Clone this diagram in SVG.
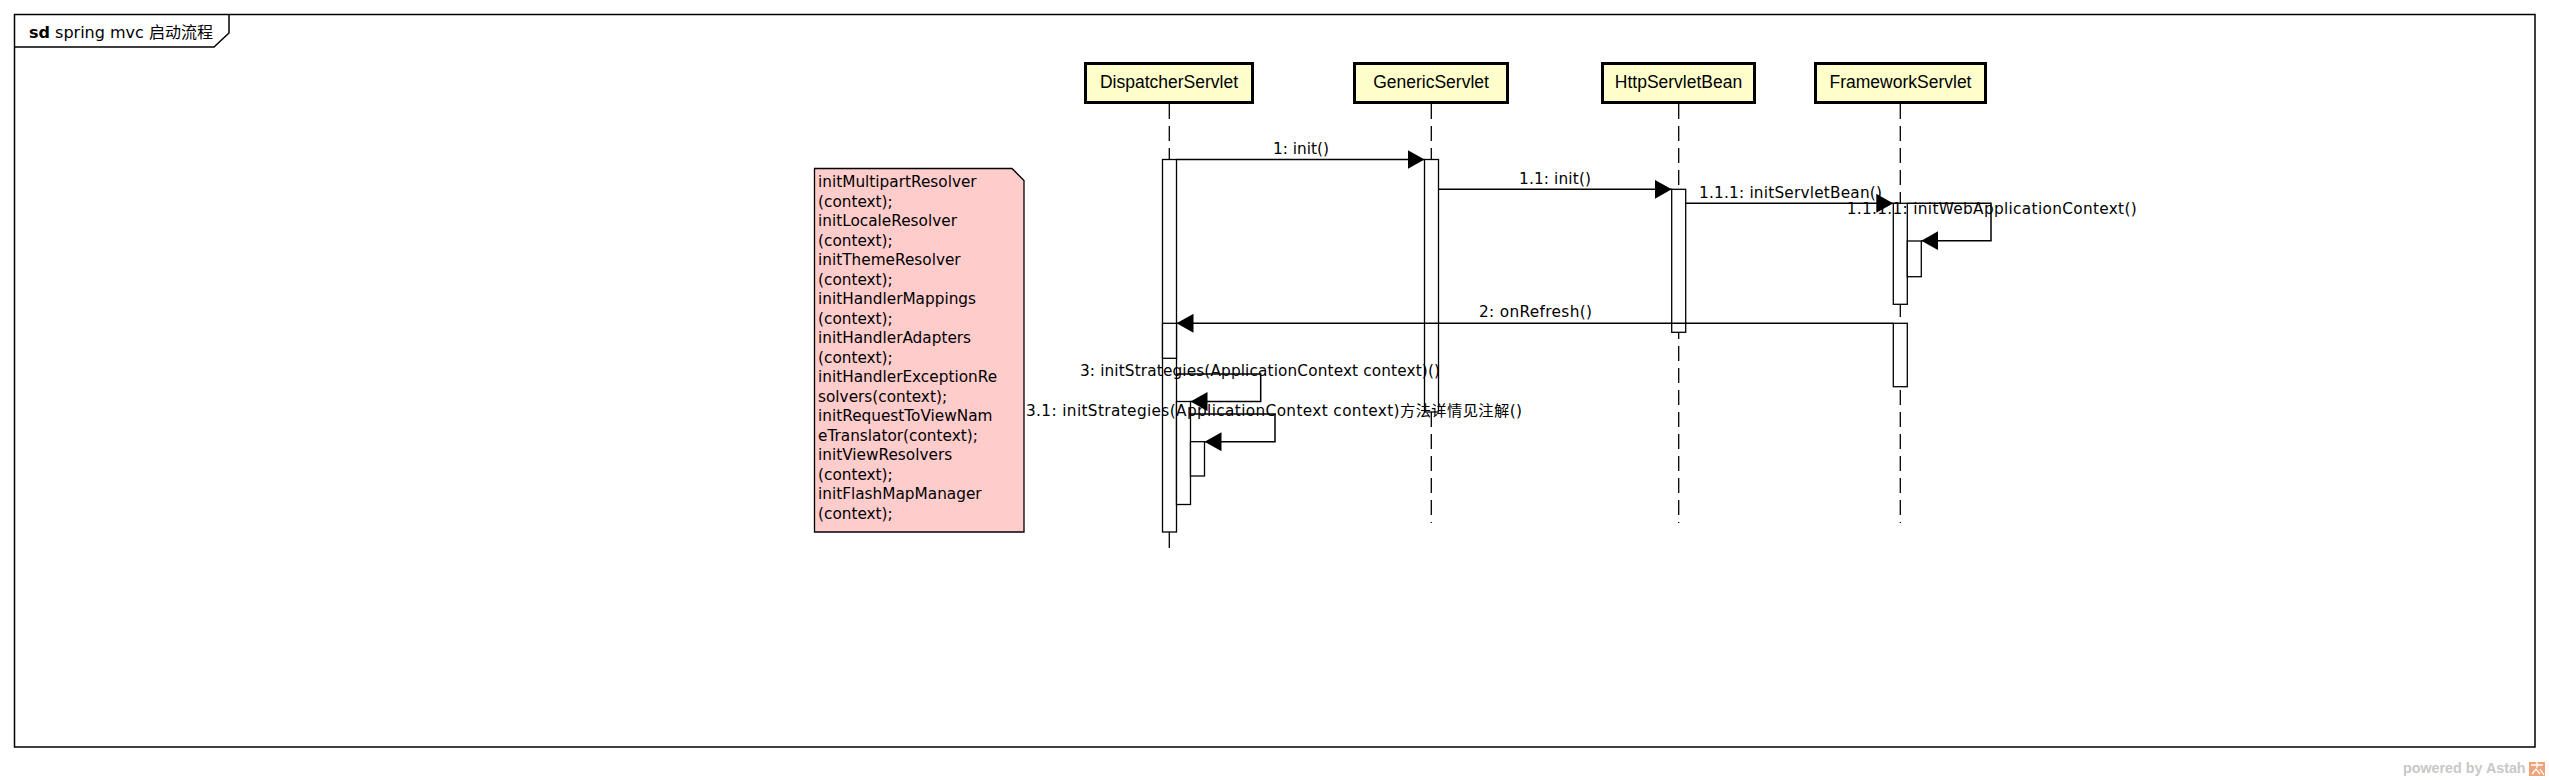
<svg xmlns="http://www.w3.org/2000/svg" width="2549" height="780" viewBox="0 0 2549 780">
<style>
.frame{fill:none;stroke:#000;stroke-width:1.5}
.box{fill:#ffffcc;stroke:#000;stroke-width:3}
.ll{stroke:#000;stroke-width:1.3;stroke-dasharray:15 7;fill:none}
.llsolid{stroke:#000;stroke-width:1.3;fill:none}
.act{fill:#fff;stroke:#000;stroke-width:1.3}
.msg{stroke:#000;stroke-width:1.5;fill:none;marker-end:url(#arr)}
.lbl{font-family:"DejaVu Sans","Noto Sans CJK SC",sans-serif;font-size:15.3px;fill:#000}
.name{font-family:"Liberation Sans",Arial,sans-serif;font-size:17.5px;fill:#000;text-anchor:middle}
.note{fill:#ffcccc;stroke:#000;stroke-width:1.3}
.ntxt{font-family:"DejaVu Sans",sans-serif;font-size:15.3px;fill:#000}
</style>
<defs>
<marker id="arr" markerWidth="17" markerHeight="19" refX="17" refY="9.5" orient="auto" markerUnits="userSpaceOnUse">
<path d="M0,0 L17,9.5 L0,19 Z" fill="#000"/>
</marker>
</defs>
<rect width="2549" height="780" fill="#fff"/>

<g id="frame">
<rect class="frame" x="14.5" y="14.5" width="2520.5" height="732.5"/>
<path class="frame" d="M14.5,47 H214 L229,33 V14.5"/>
<text x="29" y="38" font-family="'DejaVu Sans','Noto Sans CJK SC',sans-serif" font-size="16"><tspan font-weight="bold">sd</tspan> spring mvc 启动流程</text>
</g>

<g id="lifelines">
<line class="ll" x1="1169.3" y1="104" x2="1169.3" y2="160"/>
<line class="llsolid" x1="1169.3" y1="532" x2="1169.3" y2="548"/>
<line class="ll" x1="1431.3" y1="104" x2="1431.3" y2="523"/>
<line class="ll" x1="1678.7" y1="104" x2="1678.7" y2="523"/>
<line class="ll" x1="1900.3" y1="104" x2="1900.3" y2="523"/>
</g>

<g id="DispatcherServlet">
<rect class="box" x="1085.5" y="63.5" width="167" height="39"/>
<text class="name" x="1169" y="88">DispatcherServlet</text>
<rect class="act" x="1162.5" y="159.5" width="14" height="372.5"/>
<rect class="act" x="1162.5" y="323.3" width="14" height="35"/>
<rect class="act" x="1176.5" y="401.5" width="14" height="103"/>
<rect class="act" x="1190.5" y="441.7" width="14" height="34.3"/>
</g>

<g id="GenericServlet">
<rect class="box" x="1354.5" y="63.5" width="153" height="39"/>
<text class="name" x="1431" y="88">GenericServlet</text>
<rect class="act" x="1424.5" y="159.5" width="14" height="252.5"/>
</g>

<g id="HttpServletBean">
<rect class="box" x="1602.5" y="63.5" width="152" height="39"/>
<text class="name" x="1678.5" y="88">HttpServletBean</text>
<rect class="act" x="1671.7" y="189.3" width="14" height="143"/>
</g>

<g id="FrameworkServlet">
<rect class="box" x="1815.5" y="63.5" width="170" height="39"/>
<text class="name" x="1900.5" y="88">FrameworkServlet</text>
<rect class="act" x="1893.3" y="203.3" width="14" height="101"/>
<rect class="act" x="1907.3" y="241" width="14" height="35.7"/>
<rect class="act" x="1893.3" y="323.3" width="14" height="63.4"/>
</g>

<g id="note">
<path class="note" d="M814.5,168.5 H1012 L1024,180.5 V532 H814.5 Z"/>
<text class="ntxt" x="818">
<tspan x="818" y="187">initMultipartResolver</tspan>
<tspan x="818" y="206.5">(context);</tspan>
<tspan x="818" y="226">initLocaleResolver</tspan>
<tspan x="818" y="245.5">(context);</tspan>
<tspan x="818" y="265">initThemeResolver</tspan>
<tspan x="818" y="284.5">(context);</tspan>
<tspan x="818" y="304">initHandlerMappings</tspan>
<tspan x="818" y="323.5">(context);</tspan>
<tspan x="818" y="343">initHandlerAdapters</tspan>
<tspan x="818" y="362.5">(context);</tspan>
<tspan x="818" y="382">initHandlerExceptionRe</tspan>
<tspan x="818" y="401.5">solvers(context);</tspan>
<tspan x="818" y="421">initRequestToViewNam</tspan>
<tspan x="818" y="440.5">eTranslator(context);</tspan>
<tspan x="818" y="460">initViewResolvers</tspan>
<tspan x="818" y="479.5">(context);</tspan>
<tspan x="818" y="499">initFlashMapManager</tspan>
<tspan x="818" y="518.5">(context);</tspan>
</text>
</g>

<g id="connectors">
<line class="msg" x1="1176.5" y1="159.5" x2="1424.5" y2="159.5"/>
<line class="msg" x1="1438.5" y1="189.3" x2="1671.7" y2="189.3"/>
<line class="msg" x1="1685.7" y1="203.3" x2="1893.3" y2="203.3"/>
<path class="msg" d="M1907.3,203.3 H1991 V240.7 H1921.3"/>
<line class="msg" x1="1893.3" y1="323.3" x2="1176.5" y2="323.3"/>
<path class="msg" d="M1176.5,374 H1260.7 V401.5 H1190.5"/>
<path class="msg" d="M1190.5,414 H1275 V441.7 H1204.5"/>
</g>

<g id="labels">
<text class="lbl" x="1301" y="154" text-anchor="middle" textLength="56">1: init()</text>
<text class="lbl" x="1555" y="183.5" text-anchor="middle" textLength="72">1.1: init()</text>
<text class="lbl" x="1699" y="197.5" textLength="183">1.1.1: initServletBean()</text>
<text class="lbl" x="1846.7" y="213.5" textLength="290">1.1.1.1: initWebApplicationContext()</text>
<text class="lbl" x="1535.5" y="317.3" text-anchor="middle" textLength="113">2: onRefresh()</text>
<text class="lbl" x="1080" y="376" textLength="360">3: initStrategies(ApplicationContext context)()</text>
<text class="lbl" x="1026" y="415.5" textLength="496">3.1: initStrategies(ApplicationContext context)方法详情见注解()</text>
</g>

<g id="watermark">
<text x="2403" y="773" font-family="'Liberation Sans',Arial,sans-serif" font-size="14.3" font-weight="bold" fill="#c8c8c8">powered by Astah</text>
<rect x="2529" y="762" width="16" height="14" fill="#f0a27a"/>
<path d="M2531,765 H2543 M2537,762 V768 M2532,774 L2536,769 L2540,774 M2540,769 L2544,775" stroke="#fff" stroke-width="1.3" fill="none"/>
</g>
</svg>
